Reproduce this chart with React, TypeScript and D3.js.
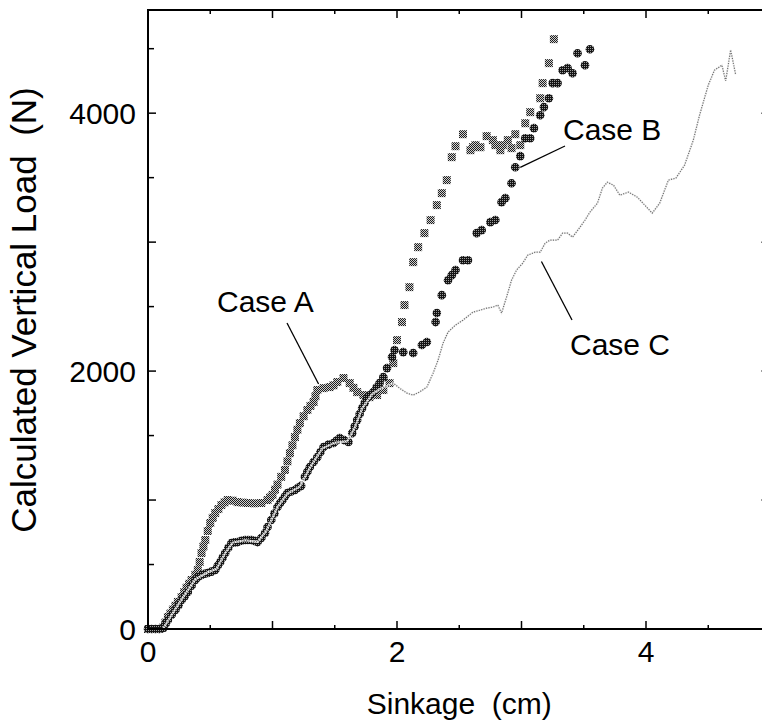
import React from "react";
import * as d3 from "d3";

// sinkage (cm), calculated vertical load (N)
const caseA: [number, number][] = [
  [0, 0], [0.03, 0], [0.06, 0], [0.09, 0], [0.12, 10], [0.14, 50], [0.16, 93],
  [0.18, 120], [0.2, 150], [0.22, 180], [0.24, 210], [0.27, 248], [0.29, 285],
  [0.31, 320], [0.33, 350], [0.35, 380], [0.38, 420], [0.4, 457], [0.415, 520],
  [0.43, 589], [0.445, 640], [0.46, 690], [0.48, 760], [0.5, 822], [0.52, 862],
  [0.54, 899], [0.565, 930], [0.59, 961], [0.615, 982], [0.64, 1000], [0.68, 995],
  [0.72, 984], [0.76, 980], [0.8, 977], [0.85, 975], [0.91, 977], [0.96, 1000],
  [0.98, 1020], [1.0, 1040], [1.02, 1080], [1.04, 1120], [1.07, 1180], [1.1, 1233],
  [1.12, 1300], [1.14, 1364], [1.16, 1425], [1.18, 1488], [1.2, 1545], [1.22, 1597],
  [1.25, 1650], [1.28, 1698], [1.305, 1730], [1.33, 1760], [1.345, 1805], [1.36, 1853],
  [1.41, 1868], [1.46, 1876], [1.49, 1890], [1.52, 1915], [1.57, 1946], [1.62, 1907],
  [1.65, 1870], [1.68, 1837], [1.73, 1814], [1.78, 1798], [1.84, 1814], [1.89, 1853],
  [1.94, 1907], [1.97, 2062], [2.0, 2240], [2.04, 2380], [2.06, 2512], [2.1, 2651],
  [2.13, 2845], [2.17, 2961], [2.22, 3070], [2.27, 3171], [2.32, 3287], [2.36, 3380],
  [2.4, 3481], [2.44, 3659], [2.47, 3744], [2.53, 3837], [2.59, 3713], [2.61, 3736],
  [2.63, 3752], [2.67, 3736], [2.72, 3822], [2.77, 3791], [2.79, 3752], [2.83, 3713],
  [2.85, 3752], [2.89, 3791], [2.92, 3729], [2.95, 3837], [2.99, 3752], [3.03, 3922],
  [3.07, 4008], [3.15, 4116], [3.17, 4233], [3.22, 4388], [3.26, 4574],
];

const caseB: [number, number][] = [
  [0, 0], [0.03, 0], [0.06, 0], [0.09, 0], [0.12, 8], [0.14, 40], [0.16, 70],
  [0.19, 110], [0.22, 147], [0.245, 185], [0.27, 225], [0.295, 255], [0.32, 287],
  [0.35, 335], [0.38, 380], [0.405, 405], [0.43, 419], [0.455, 428], [0.48, 434],
  [0.51, 445], [0.54, 457], [0.56, 490], [0.58, 519], [0.6, 555], [0.62, 589],
  [0.645, 630], [0.67, 667], [0.695, 672], [0.72, 674], [0.75, 684], [0.78, 690],
  [0.805, 690], [0.83, 690], [0.855, 683], [0.88, 674], [0.91, 705], [0.94, 744],
  [0.96, 791], [0.99, 845], [1.015, 895], [1.04, 946], [1.06, 975], [1.08, 1000],
  [1.1, 1028], [1.12, 1054], [1.15, 1066], [1.18, 1078], [1.205, 1095], [1.23, 1110],
  [1.26, 1180], [1.28, 1220], [1.3, 1256], [1.33, 1295], [1.36, 1333], [1.385, 1372],
  [1.41, 1411], [1.45, 1430], [1.49, 1442], [1.515, 1462], [1.54, 1481], [1.575, 1465],
  [1.61, 1450], [1.64, 1519], [1.66, 1570], [1.68, 1620], [1.7, 1667], [1.72, 1713],
  [1.74, 1752], [1.76, 1791], [1.785, 1815], [1.81, 1837], [1.835, 1872], [1.86, 1907],
  [1.89, 1953], [1.92, 2023], [1.96, 2109], [1.98, 2163], [2.05, 2147], [2.13, 2140],
  [2.2, 2202], [2.24, 2225], [2.31, 2380], [2.32, 2450], [2.36, 2589], [2.41, 2705],
  [2.44, 2744], [2.47, 2783], [2.53, 2860], [2.57, 2860], [2.64, 3070], [2.68, 3093],
  [2.75, 3155], [2.79, 3171], [2.84, 3310], [2.87, 3341], [2.92, 3457], [2.95, 3581],
  [2.99, 3667], [3.03, 3806], [3.07, 3806], [3.1, 3884], [3.15, 3984], [3.18, 4047],
  [3.22, 4116], [3.25, 4233], [3.29, 4233], [3.33, 4333], [3.37, 4349], [3.41, 4310],
  [3.45, 4465], [3.51, 4372], [3.55, 4496],
];

const caseC: [number, number][] = [
  [0, 0], [0.12, 0], [0.18, 95], [0.27, 230], [0.38, 385], [0.48, 440], [0.55, 465],
  [0.62, 590], [0.68, 670], [0.78, 688], [0.88, 676], [0.95, 760], [1.04, 945],
  [1.12, 1050], [1.22, 1105], [1.3, 1250], [1.4, 1400], [1.5, 1445], [1.6, 1455],
  [1.66, 1560], [1.72, 1710], [1.8, 1820], [1.86, 1860], [1.92, 1885], [1.97, 1907],
  [2.02, 1868], [2.08, 1829], [2.13, 1814], [2.18, 1837], [2.24, 1876], [2.29, 1984],
  [2.33, 2085], [2.37, 2217], [2.41, 2302], [2.47, 2357], [2.53, 2395], [2.61, 2457],
  [2.67, 2473], [2.72, 2488], [2.77, 2496], [2.81, 2512], [2.84, 2450], [2.88, 2574],
  [2.92, 2705], [2.96, 2783], [3.01, 2837], [3.05, 2899], [3.11, 2922], [3.15, 2922],
  [3.19, 2992], [3.23, 3016], [3.29, 3016], [3.33, 3070], [3.37, 3070], [3.41, 3039],
  [3.47, 3116], [3.51, 3171], [3.55, 3233], [3.61, 3302], [3.65, 3419], [3.69, 3465],
  [3.74, 3440], [3.79, 3364], [3.86, 3388], [3.93, 3349], [3.99, 3287], [4.05, 3225],
  [4.11, 3302], [4.18, 3481], [4.24, 3496], [4.31, 3597], [4.38, 3791], [4.43, 3984],
  [4.5, 4217], [4.55, 4333], [4.61, 4372], [4.64, 4250], [4.68, 4490], [4.72, 4300],
];

const xTickLabels = [0, 2, 4];
const yTickLabels = [0, 2000, 4000];

// annotation text and where its leader line points (data coords)
const notes = [
  { text: "Case A", at: [1.37, 1900] as [number, number] },
  { text: "Case B", at: [2.99, 3580] as [number, number] },
  { text: "Case C", at: [3.16, 2850] as [number, number] },
];

const W = 762;
const H = 728;
const font = "'Liberation Sans', Arial, Helvetica, sans-serif";

const x = d3.scaleLinear().domain([0, 5]).range([148, 770.5]);
const y = d3.scaleLinear().domain([0, 4800]).range([629, 10]);

export default function App() {
  const xMinor = d3.range(0, 5.01, 0.5);
  const yMinor = d3.range(0, 4801, 500);
  const line = d3
    .line<[number, number]>()
    .x((d) => x(d[0]))
    .y((d) => y(d[1]));

  const left = x(0);
  const right = x(5);
  const top = y(4800);
  const bottom = y(0);

  // label positions in pixels next to their leader lines
  const labelPos = [
    { x: 217, y: 312, from: [287, 323] },
    { x: 563, y: 140, from: [565, 146] },
    { x: 570, y: 355, from: [572, 320] },
  ];

  return (
    <svg
      width={W}
      height={H}
      style={{ position: "absolute", left: 0, top: 0, background: "#fff" }}
      fontFamily={font}
    >
      <defs>
        <pattern id="checkA" width={2} height={2} patternUnits="userSpaceOnUse">
          <rect width={2} height={2} fill="#cfcfcf" />
          <rect width={1} height={1} fill="#1e1e1e" />
          <rect x={1} y={1} width={1} height={1} fill="#1e1e1e" />
        </pattern>
        <pattern id="checkB" width={2} height={2} patternUnits="userSpaceOnUse">
          <rect width={2} height={2} fill="#141414" />
          <rect width={1} height={1} fill="#9a9a9a" />
        </pattern>
      </defs>
      <rect width={W} height={H} fill="#fff" />

      {/* Case A squares */}
      <g>
        {caseA.map((d, i) => (
          <rect key={i} x={x(d[0]) - 4} y={y(d[1]) - 4} width={8} height={8} fill="url(#checkA)" />
        ))}
      </g>
      {/* Case B circles */}
      <g>
        {caseB.map((d, i) => (
          <circle key={i} cx={x(d[0])} cy={y(d[1])} r={4.3} fill="url(#checkB)" />
        ))}
      </g>
      {/* Case C line: light core with a fine dotted gray trace */}
      <path d={line(caseC) || ""} fill="none" stroke="#f2f2f2" strokeWidth={2} />
      <path
        d={line(caseC) || ""}
        fill="none"
        stroke="#6e6e6e"
        strokeWidth={1.2}
        strokeDasharray="1.2 1.3"
      />

      {/* axes frame */}
      <g stroke="#000" fill="none">
        <line x1={left} y1={top} x2={left} y2={bottom} strokeWidth={2} />
        <line x1={left - 1} y1={bottom} x2={right} y2={bottom} strokeWidth={2} />
        <line x1={left - 1} y1={top} x2={right} y2={top} strokeWidth={2} />
        <line x1={right} y1={top} x2={right} y2={bottom} strokeWidth={2} />
        {xMinor.map((v) => {
          const major = Number.isInteger(v);
          return (
            <g key={"x" + v} strokeWidth={1.5}>
              <line x1={x(v)} x2={x(v)} y1={bottom} y2={bottom - (major ? 8 : 4)} />
              <line x1={x(v)} x2={x(v)} y1={top} y2={top + (major ? 8 : 4)} />
            </g>
          );
        })}
        {yMinor.map((v) => {
          const major = v % 1000 === 0;
          return (
            <g key={"y" + v} strokeWidth={1.5}>
              <line x1={left} x2={left + (major ? 8 : 6)} y1={y(v)} y2={y(v)} />
              <line x1={right} x2={right - (major ? 9 : 5)} y1={y(v)} y2={y(v)} />
            </g>
          );
        })}
      </g>

      {/* tick labels */}
      <g fontSize={30} fill="#000">
        {xTickLabels.map((v) => (
          <text key={v} x={x(v)} y={bottom + 33} textAnchor="middle">
            {v}
          </text>
        ))}
        {yTickLabels.map((v) => (
          <text key={v} x={left - 12} y={y(v) + 11} textAnchor="end">
            {v}
          </text>
        ))}
      </g>

      {/* axis titles */}
      <text x={(left + right) / 2} y={714} fontSize={30} textAnchor="middle" xmlSpace="preserve">
        {"Sinkage  (cm)"}
      </text>
      <text
        transform={`translate(36, 310) rotate(-90)`}
        fontSize={35}
        textAnchor="middle"
        xmlSpace="preserve"
      >
        {"Calculated Vertical Load  (N)"}
      </text>

      {/* annotations */}
      {notes.map((n, i) => (
        <g key={n.text}>
          <line
            x1={labelPos[i].from[0]}
            y1={labelPos[i].from[1]}
            x2={x(n.at[0])}
            y2={y(n.at[1])}
            stroke="#000"
            strokeWidth={1.3}
          />
          <text x={labelPos[i].x} y={labelPos[i].y} fontSize={30}>
            {n.text}
          </text>
        </g>
      ))}
    </svg>
  );
}
